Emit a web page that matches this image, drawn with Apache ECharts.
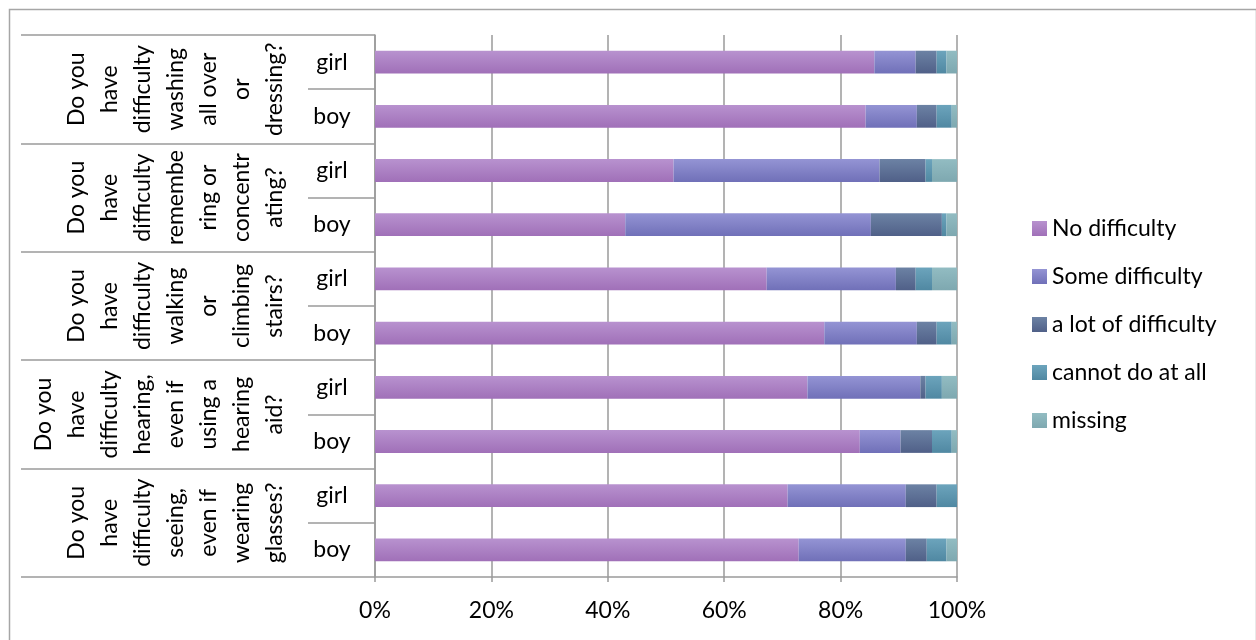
<!DOCTYPE html>
<html>
<head>
<meta charset="utf-8">
<script src="https://cdn.jsdelivr.net/npm/echarts@6/dist/echarts.min.js"></script>
<style>
  html, body { margin: 0; padding: 0; background: #fff; }
  #chart { width: 1256px; height: 640px; }
</style>
</head>
<body>
<div id="chart"></div>
<script>
// categories, top to bottom
var questions = [
  'Do you\nhave\ndifficulty\nwashing\nall over\nor\ndressing?',
  'Do you\nhave\ndifficulty\nremembe\nring or\nconcentr\nating?',
  'Do you\nhave\ndifficulty\nwalking\nor\nclimbing\nstairs?',
  'Do you\nhave\ndifficulty\nhearing,\neven if\nusing a\nhearing\naid?',
  'Do you\nhave\ndifficulty\nseeing,\neven if\nwearing\nglasses?'
];
var genders = ['girl', 'boy', 'girl', 'boy', 'girl', 'boy', 'girl', 'boy', 'girl', 'boy'];

var seriesNames = ['No difficulty', 'Some difficulty', 'a lot of difficulty', 'cannot do at all', 'missing'];
var noDifficulty   = [85.8, 84.3, 51.3, 43.0, 67.3, 77.2, 74.3, 83.3, 70.9, 72.8];
var someDifficulty = [7.1, 8.8, 35.4, 42.2, 22.2, 15.9, 19.4, 7.0, 20.3, 18.4];
var lotDifficulty  = [3.6, 3.4, 7.9, 12.2, 3.4, 3.4, 0.9, 5.4, 5.3, 3.6];
var cannotDo       = [1.7, 2.6, 1.1, 0.8, 2.8, 2.6, 2.8, 3.4, 3.5, 3.4];
var missing        = [1.8, 0.9, 4.3, 1.8, 4.3, 0.9, 2.6, 0.9, 0.0, 1.8];

var xTicks = [0, 20, 40, 60, 80, 100];

var font = 'Lato, "Open Sans", sans-serif';
var fontSize = 23;
var lineColor = '#9a9a9a';

function grad(top, bottom) {
  return new echarts.graphic.LinearGradient(0, 0, 0, 1, [
    { offset: 0, color: top },
    { offset: 1, color: bottom }
  ]);
}
var fills = [
  grad('#b892cf', '#a070b8'),
  grad('#9494d4', '#7070b8'),
  grad('#6c82a4', '#506088'),
  grad('#6ca4bc', '#5088a2'),
  grad('#92bcc2', '#7ea8b0')
];
var values = [noDifficulty, someDifficulty, lotDifficulty, cannotDo, missing];

var chart = echarts.init(document.getElementById('chart'));

var series = [];
for (var i = 0; i < seriesNames.length; i++) {
  series.push({
    name: seriesNames[i],
    type: 'bar',
    stack: 'total',
    yAxisIndex: 0,
    barWidth: '42%',
    itemStyle: { color: fills[i] },
    data: values[i]
  });
}

var options = {
  backgroundColor: '#fff',
  animation: false,
  textStyle: { fontFamily: font },
  graphic: [{
    type: 'rect',
    left: 7, top: 7,
    shape: { width: 1247, height: 660 },
    style: { fill: 'none', stroke: '#a6a6a6', lineWidth: 1.5 },
    silent: true
  }],
  legend: {
    orient: 'vertical',
    left: 1027,
    top: 212,
    itemWidth: 15,
    itemHeight: 15,
    itemGap: 25,
    icon: 'rect',
    textStyle: { fontSize: fontSize, color: '#000', fontFamily: font },
    data: seriesNames
  },
  grid: { left: 375, right: 299, top: 35, bottom: 63 },
  xAxis: {
    type: 'value',
    min: xTicks[0],
    max: xTicks[xTicks.length - 1],
    interval: 20,
    axisLine: { show: true, lineStyle: { color: lineColor, width: 1.5 } },
    axisTick: { show: true, length: 5, lineStyle: { color: lineColor, width: 1.5 } },
    splitLine: { show: true, lineStyle: { color: lineColor, width: 1.5 } },
    axisLabel: { formatter: '{value}%', fontSize: fontSize, color: '#000', margin: 22, fontFamily: font }
  },
  yAxis: [
    {
      type: 'category',
      inverse: true,
      data: genders,
      position: 'left',
      axisLine: { show: true, lineStyle: { color: lineColor, width: 1.5 } },
      axisTick: { show: true, length: 67, interval: 0, lineStyle: { color: lineColor, width: 1.5 } },
      axisLabel: { interval: 0, fontSize: fontSize, color: '#000', align: 'center', margin: 43, fontFamily: font }
    },
    {
      type: 'category',
      inverse: true,
      data: questions,
      position: 'left',
      offset: 67,
      axisLine: { show: false },
      axisTick: { show: true, length: 287, interval: 0, lineStyle: { color: lineColor, width: 1.5 } },
      axisLabel: { interval: 0, rotate: 90, fontSize: fontSize, lineHeight: 33, color: '#000', margin: 17, fontFamily: font }
    }
  ],
  series: series
};

chart.setOption(options);
</script>
</body>
</html>
